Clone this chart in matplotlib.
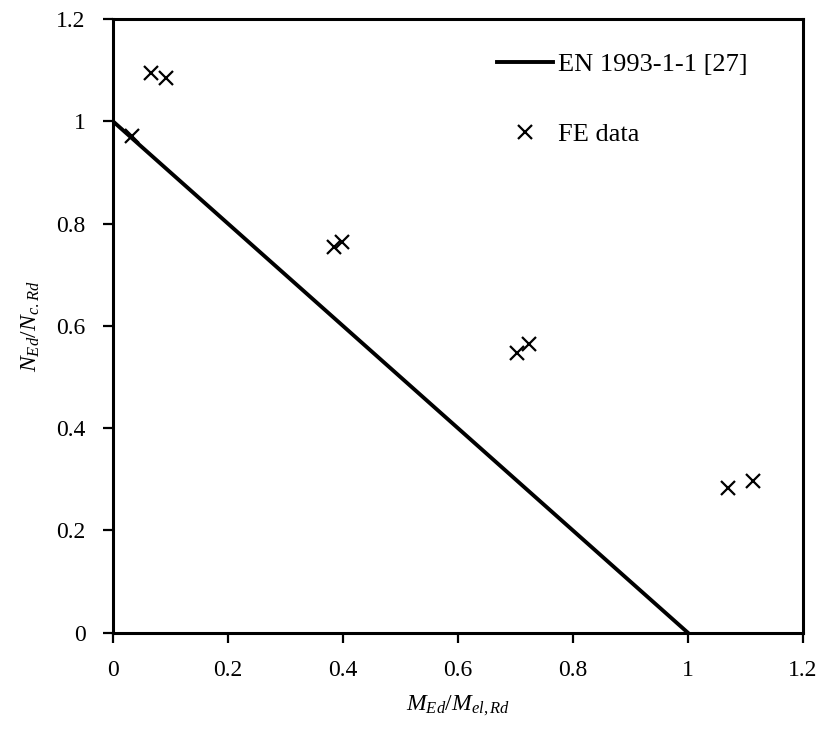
import matplotlib
matplotlib.use("Agg")
import matplotlib.pyplot as plt

plt.rcParams['font.family'] = ['Liberation Serif', 'DejaVu Serif']
plt.rcParams['mathtext.fontset'] = 'custom'
plt.rcParams['mathtext.rm'] = 'Liberation Serif'
plt.rcParams['mathtext.it'] = 'Liberation Serif:italic'

# EN 1993-1-1 linear interaction line
code_m = [0, 1]
code_n = [1, 0]

# FE results
fe_m = [0.033, 0.065, 0.092, 0.385, 0.398, 0.703, 0.723, 1.07, 1.113]
fe_n = [0.972, 1.095, 1.085, 0.755, 0.765, 0.548, 0.564, 0.284, 0.296]

xticks = [0, 0.2, 0.4, 0.6, 0.8, 1, 1.2]
yticks = [0, 0.2, 0.4, 0.6, 0.8, 1, 1.2]
tick_labels = ['0', '0.2', '0.4', '0.6', '0.8', '1', '1.2']

fig = plt.figure(figsize=(8.2, 7.4), dpi=100)
ax = fig.add_axes([0.138, 0.145, 0.841, 0.829])

ax.plot(code_m, code_n, color='black', lw=2.8, label='EN 1993-1-1 [27]')
ax.plot(fe_m, fe_n, ls='none', marker='x', ms=10, mew=1.6, color='black',
        label='FE data')

ax.set_xlim(0, 1.2)
ax.set_ylim(0, 1.2)
ax.set_xticks(xticks)
ax.set_yticks(yticks)
ax.set_xticklabels(tick_labels)
ax.set_yticklabels(tick_labels)
ax.tick_params(direction='out', length=7, width=1.6, labelsize=17, pad=13)
for s in ax.spines.values():
    s.set_linewidth(2.2)

ax.set_xlabel(r'$M_{Ed}/M_{el,Rd}$', fontsize=17, labelpad=9)
ax.set_ylabel(r'$N_{Ed}/N_{c.Rd}$', fontsize=17, labelpad=10)

ax.legend(loc='upper left', bbox_to_anchor=(0.557, 0.945), frameon=False,
          fontsize=19, handlelength=2.1, handletextpad=0.2, labelspacing=1.75,
          borderpad=0, borderaxespad=0)

fig.savefig('out.png', dpi=100)
